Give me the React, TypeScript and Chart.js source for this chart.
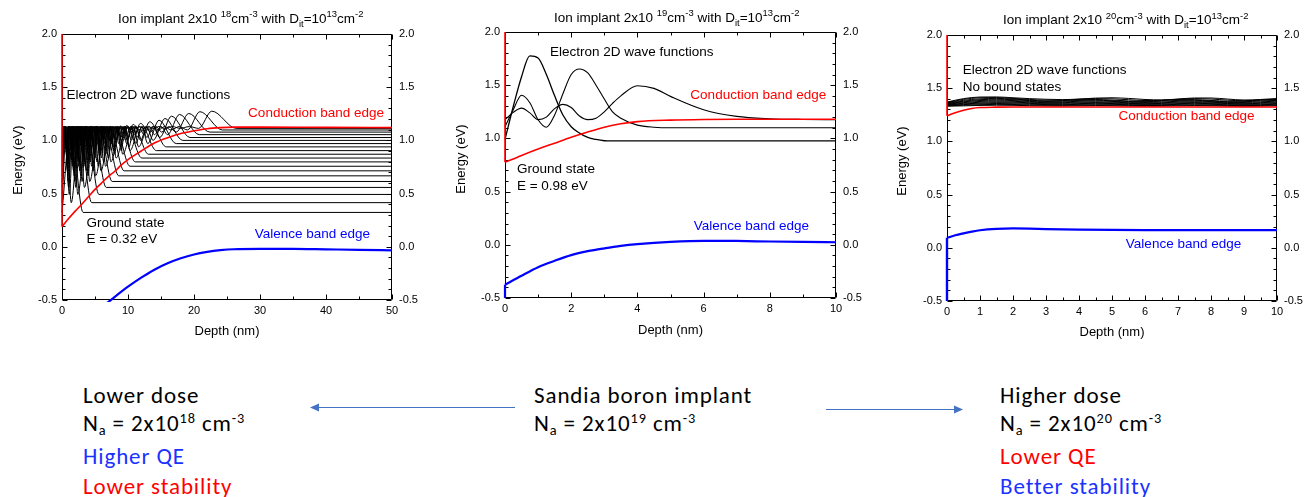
import React, { useEffect, useRef } from "react";
import { Chart, registerables } from "chart.js";
Chart.register(...registerables);

const FONT = "'Liberation Sans', Arial, Helvetica, sans-serif";
const NOTE_FONT = "Carlito, Calibri, Lato, 'Open Sans', sans-serif";
const RED = "#ff0000";
const BLUE = "#0000ff";

// ---------------- Panel 1 : 2x10^18 ----------------
const depth1CB = [0, 1, 2, 3, 4, 5, 6, 7, 8, 9, 10, 12, 14, 16, 18, 20, 22, 24, 26, 30, 40, 50];
const cb1 = [0.19, 0.265, 0.335, 0.4, 0.47, 0.54, 0.6, 0.66, 0.71, 0.77, 0.82, 0.9, 0.975, 1.025, 1.065, 1.09, 1.11, 1.12, 1.125, 1.125, 1.122, 1.12];
const wallCB1 = [0.19, 2.0];
const depth1VB = [0, 2, 4, 6, 7, 8, 10, 12, 14, 16, 18, 20, 22, 24, 26, 30, 35, 40, 45, 50];
const vb1 = [-0.93, -0.8, -0.68, -0.57, -0.52, -0.47, -0.375, -0.29, -0.215, -0.155, -0.108, -0.072, -0.048, -0.032, -0.023, -0.02, -0.02, -0.024, -0.028, -0.033];
const levels1 = [0.323, 0.415, 0.492, 0.558, 0.614, 0.667, 0.714, 0.757, 0.798, 0.834, 0.87, 0.904, 0.939, 0.97, 1.0, 1.027, 1.054, 1.078, 1.098, 1.113];
const wfTop1 = 1.13;
// alternating node / inner-peak depths of each bound state
const wfNodesPeaks1 = [
  [0],
  [0, 0.7, 1.4],
  [0, 0.55, 1.1, 1.75, 2.4],
  [0, 0.5, 1.0, 1.55, 2.1, 2.75, 3.4],
  [0, 0.48, 0.95, 1.45, 1.95, 2.5, 3.05, 3.62, 4.2],
  [0, 0.45, 0.9, 1.38, 1.85, 2.35, 2.85, 3.4, 3.95, 4.52, 5.1],
  [0, 0.42, 0.85, 1.3, 1.75, 2.22, 2.7, 3.2, 3.7, 4.22, 4.75, 5.32, 5.9],
  [0, 0.4, 0.8, 1.22, 1.65, 2.1, 2.55, 3.02, 3.5, 4.0, 4.5, 5.0, 5.5, 6.05, 6.6],
  [0, 0.4, 0.8, 1.2, 1.6, 2.02, 2.45, 2.9, 3.35, 3.82, 4.3, 4.8, 5.3, 5.8, 6.3, 6.85, 7.4],
  [0, 0.38, 0.75, 1.15, 1.55, 1.95, 2.35, 2.78, 3.2, 3.65, 4.1, 4.55, 5.0, 5.48, 5.95, 6.48, 7.0, 7.6, 8.2],
  [0, 0.38, 0.75, 1.12, 1.5, 1.9, 2.3, 2.72, 3.15, 3.58, 4.0, 4.45, 4.9, 5.38, 5.85, 6.35, 6.85, 7.4, 7.95, 8.58, 9.2],
  [0, 0.35, 0.7, 1.08, 1.45, 1.85, 2.25, 2.65, 3.05, 3.48, 3.9, 4.35, 4.8, 5.28, 5.75, 6.25, 6.75, 7.28, 7.8, 8.38, 8.95, 9.62, 10.3],
  [0, 0.35, 0.7, 1.08, 1.45, 1.82, 2.2, 2.6, 3.0, 3.42, 3.85, 4.3, 4.75, 5.22, 5.7, 6.2, 6.7, 7.22, 7.75, 8.32, 8.9, 9.52, 10.15, 10.88, 11.6],
  [0, 0.35, 0.7, 1.05, 1.4, 1.78, 2.15, 2.55, 2.95, 3.38, 3.8, 4.22, 4.65, 5.1, 5.55, 6.02, 6.5, 7.0, 7.5, 8.05, 8.6, 9.2, 9.8, 10.5, 11.2, 12.1, 13.0],
  [0, 0.35, 0.7, 1.05, 1.4, 1.75, 2.1, 2.48, 2.85, 3.25, 3.65, 4.08, 4.5, 4.92, 5.35, 5.8, 6.25, 6.72, 7.2, 7.7, 8.2, 8.75, 9.3, 9.9, 10.5, 11.2, 11.9, 12.85, 13.8],
  [0, 0.32, 0.65, 1.0, 1.35, 1.7, 2.05, 2.4, 2.75, 3.12, 3.5, 3.9, 4.3, 4.72, 5.15, 5.58, 6.0, 6.45, 6.9, 7.38, 7.85, 8.38, 8.9, 9.48, 10.05, 10.7, 11.35, 12.1, 12.85, 13.82, 14.8],
  [0, 0.32, 0.65, 0.98, 1.3, 1.65, 2.0, 2.35, 2.7, 3.08, 3.45, 3.82, 4.2, 4.6, 5.0, 5.42, 5.85, 6.3, 6.75, 7.22, 7.7, 8.2, 8.7, 9.25, 9.8, 10.4, 11.0, 11.7, 12.4, 13.2, 14.0, 15.0, 16.0],
  [0, 0.32, 0.65, 0.98, 1.3, 1.62, 1.95, 2.3, 2.65, 3.0, 3.35, 3.72, 4.1, 4.5, 4.9, 5.3, 5.7, 6.12, 6.55, 7.0, 7.45, 7.92, 8.4, 8.92, 9.45, 10.02, 10.6, 11.25, 11.9, 12.65, 13.4, 14.25, 15.1, 16.2, 17.3],
  [0, 0.3, 0.6, 0.92, 1.25, 1.58, 1.9, 2.25, 2.6, 2.95, 3.3, 3.68, 4.05, 4.42, 4.8, 5.2, 5.6, 6.02, 6.45, 6.9, 7.35, 7.82, 8.3, 8.8, 9.3, 9.85, 10.4, 11.0, 11.6, 12.3, 13.0, 13.8, 14.6, 15.55, 16.5, 17.75, 19.0],
  [0, 0.3, 0.6, 0.9, 1.2, 1.52, 1.85, 2.18, 2.5, 2.85, 3.2, 3.55, 3.9, 4.28, 4.65, 5.05, 5.45, 5.85, 6.25, 6.68, 7.1, 7.55, 8.0, 8.48, 8.95, 9.48, 10.0, 10.58, 11.15, 11.78, 12.4, 13.1, 13.8, 14.7, 15.6, 16.75, 17.9, 19.3, 20.7],
];
const outerPeakX1 = [1.3, 2.6, 3.7, 4.7, 5.6, 6.5, 7.3, 8.1, 8.9, 9.8, 10.8, 11.9, 13.3, 14.7, 15.6, 16.6, 17.8, 19.2, 20.9, 22.7];
const outerPeakY1 = [1.13, 1.13, 1.13, 1.13, 1.13, 1.13, 1.13, 1.13, 1.135, 1.14, 1.15, 1.16, 1.175, 1.19, 1.206, 1.228, 1.244, 1.253, 1.27, 1.275];
const tailX1 = [3.2, 4.5, 5.6, 6.7, 7.6, 8.6, 9.4, 10.3, 11.1, 12.1, 13.1, 14.3, 15.8, 17.3, 18.3, 19.4, 20.8, 22.4, 24.3, 26.4];
const depthEnd1 = 50;

// ---------------- Panel 2 : 2x10^19 ----------------
const depth2CB = [0, 0.5, 1, 1.5, 2, 2.5, 3, 3.5, 4, 5, 6, 7, 8, 10];
const cb2 = [0.775, 0.84, 0.9, 0.955, 1.01, 1.06, 1.105, 1.138, 1.158, 1.172, 1.178, 1.18, 1.18, 1.18];
const wallCB2 = [0.775, 2.0];
const depth2VB = [0, 0.5, 1, 1.5, 2, 2.5, 3, 3.5, 4, 5, 6, 7, 8, 9, 10];
const vb2 = [-0.375, -0.29, -0.21, -0.15, -0.097, -0.06, -0.033, -0.01, 0.006, 0.027, 0.037, 0.036, 0.031, 0.027, 0.024];
const wallVB2 = [-0.375, -0.5];
const depth2WF = [0, 0.25, 0.5, 0.75, 1, 1.25, 1.5, 1.75, 2, 2.25, 2.5, 2.75, 3, 3.25, 3.5, 4, 4.5, 5, 6, 7, 8, 9, 10];
const wf2Ground = [0.99, 1.3, 1.58, 1.775, 1.755, 1.6, 1.4, 1.22, 1.11, 1.05, 1.01, 0.99, 0.978, 0.976, 0.976, 0.976, 0.976, 0.976, 0.976, 0.976, 0.976, 0.976, 0.976];
const wf2Second = [1.11, 1.27, 1.405, 1.335, 1.175, 1.105, 1.22, 1.42, 1.6, 1.652, 1.615, 1.5, 1.37, 1.25, 1.19, 1.125, 1.105, 1.1, 1.1, 1.1, 1.1, 1.1, 1.1];
const wf2Third = [1.176, 1.245, 1.285, 1.24, 1.176, 1.2, 1.28, 1.32, 1.29, 1.21, 1.176, 1.19, 1.25, 1.33, 1.4, 1.495, 1.47, 1.395, 1.27, 1.207, 1.185, 1.178, 1.176];

// ---------------- Panel 3 : 2x10^20 ----------------
const depth3CB = [0, 0.25, 0.5, 0.75, 1, 1.5, 2, 4, 6, 8, 10];
const cb3 = [1.24, 1.27, 1.293, 1.31, 1.318, 1.322, 1.324, 1.324, 1.323, 1.323, 1.323];
const wallCB3 = [1.24, 2.0];
const depth3VB = [0, 0.25, 0.5, 0.75, 1, 1.5, 2, 2.5, 3, 4, 5, 6, 8, 10];
const vb3 = [0.094, 0.118, 0.136, 0.152, 0.165, 0.178, 0.182, 0.18, 0.176, 0.171, 0.168, 0.167, 0.167, 0.167];
const wallVB3 = [0.094, -0.5];
const depth3WF = [0, 0.5, 1, 1.5, 2, 2.5, 3, 3.5, 4, 4.5, 5, 5.5, 6, 6.5, 7, 7.5, 8, 8.5, 9, 9.5, 10];
const wf3States = [
  [1.37, 1.402, 1.417, 1.418, 1.41, 1.402, 1.396, 1.393, 1.398, 1.407, 1.41, 1.404, 1.394, 1.39, 1.398, 1.408, 1.408, 1.398, 1.389, 1.394, 1.403],
  [1.365, 1.395, 1.41, 1.412, 1.404, 1.394, 1.388, 1.388, 1.396, 1.402, 1.4, 1.392, 1.384, 1.386, 1.396, 1.402, 1.398, 1.388, 1.382, 1.389, 1.398],
  [1.362, 1.386, 1.4, 1.404, 1.398, 1.388, 1.38, 1.383, 1.392, 1.394, 1.388, 1.38, 1.378, 1.385, 1.393, 1.393, 1.385, 1.378, 1.38, 1.388, 1.392],
  [1.358, 1.378, 1.392, 1.396, 1.392, 1.383, 1.376, 1.378, 1.385, 1.387, 1.382, 1.375, 1.373, 1.378, 1.385, 1.386, 1.38, 1.373, 1.373, 1.38, 1.386],
  [1.355, 1.372, 1.384, 1.388, 1.384, 1.376, 1.37, 1.371, 1.377, 1.38, 1.376, 1.369, 1.366, 1.37, 1.377, 1.379, 1.374, 1.367, 1.366, 1.372, 1.378],
  [1.35, 1.365, 1.376, 1.38, 1.377, 1.37, 1.364, 1.364, 1.369, 1.372, 1.369, 1.363, 1.36, 1.363, 1.369, 1.372, 1.368, 1.362, 1.36, 1.364, 1.37],
  [1.346, 1.358, 1.368, 1.372, 1.369, 1.363, 1.358, 1.358, 1.362, 1.365, 1.362, 1.357, 1.354, 1.357, 1.362, 1.365, 1.361, 1.356, 1.354, 1.358, 1.363],
  [1.342, 1.352, 1.36, 1.364, 1.362, 1.357, 1.352, 1.351, 1.355, 1.358, 1.356, 1.351, 1.348, 1.35, 1.355, 1.358, 1.355, 1.35, 1.348, 1.351, 1.356],
  [1.338, 1.346, 1.353, 1.356, 1.354, 1.35, 1.346, 1.345, 1.348, 1.351, 1.349, 1.345, 1.342, 1.344, 1.348, 1.351, 1.349, 1.344, 1.342, 1.345, 1.349],
  [1.334, 1.34, 1.345, 1.348, 1.347, 1.343, 1.34, 1.339, 1.341, 1.344, 1.343, 1.339, 1.337, 1.338, 1.341, 1.344, 1.342, 1.338, 1.336, 1.338, 1.342],
  [1.331, 1.334, 1.338, 1.34, 1.339, 1.336, 1.334, 1.333, 1.335, 1.337, 1.336, 1.333, 1.332, 1.333, 1.335, 1.337, 1.336, 1.333, 1.331, 1.333, 1.336],
];

// ---------------- texts ----------------
type Seg = [string, "n" | "sup" | "sub"];
const title1: Seg[] = [["Ion implant 2x10 ", "n"], ["18", "sup"], ["cm", "n"], ["-3", "sup"], [" with D", "n"], ["it", "sub"], ["=10", "n"], ["13", "sup"], ["cm", "n"], ["-2", "sup"]];
const title2: Seg[] = [["Ion implant 2x10 ", "n"], ["19", "sup"], ["cm", "n"], ["-3", "sup"], [" with D", "n"], ["it", "sub"], ["=10", "n"], ["13", "sup"], ["cm", "n"], ["-2", "sup"]];
const title3: Seg[] = [["Ion implant 2x10 ", "n"], ["20", "sup"], ["cm", "n"], ["-3", "sup"], [" with D", "n"], ["it", "sub"], ["=10", "n"], ["13", "sup"], ["cm", "n"], ["-2", "sup"]];

interface Note { text: string; x: number; y: number; color: string }
const notes1: Note[] = [
  { text: "Electron 2D wave functions", x: 0.7, y: 1.425, color: "#000" },
  { text: "Conduction band edge", x: 28.2, y: 1.256, color: RED },
  { text: "Ground state", x: 3.7, y: 0.223, color: "#000" },
  { text: "E = 0.32 eV", x: 3.7, y: 0.073, color: "#000" },
  { text: "Valence band edge", x: 29.2, y: 0.12, color: BLUE },
];
const notes2: Note[] = [
  { text: "Electron 2D wave functions", x: 1.36, y: 1.805, color: "#000" },
  { text: "Conduction band edge", x: 5.6, y: 1.401, color: RED },
  { text: "Ground state", x: 0.36, y: 0.706, color: "#000" },
  { text: "E = 0.98 eV", x: 0.36, y: 0.546, color: "#000" },
  { text: "Valence band edge", x: 5.7, y: 0.17, color: BLUE },
];
const notes3: Note[] = [
  { text: "Electron 2D wave functions", x: 0.48, y: 1.669, color: "#000" },
  { text: "No bound states", x: 0.48, y: 1.509, color: "#000" },
  { text: "Conduction band edge", x: 5.2, y: 1.237, color: RED },
  { text: "Valence band edge", x: 5.42, y: 0.035, color: BLUE },
];

// ---------------- helpers ----------------
const toPts = (xs: number[], ys: number[]) => xs.map((x, i) => ({ x, y: ys[i] }));
const wallPts = (ys: number[]) => ys.map((y) => ({ x: 0, y }));

function lineDs(data: any[], color: string, width: number, smooth = true) {
  return {
    data,
    borderColor: color,
    borderWidth: width,
    pointRadius: 0,
    fill: false,
    tension: 0,
    cubicInterpolationMode: smooth ? "monotone" : "default",
    yAxisID: "y",
    clip: 2,
  };
}

const wfData1 = levels1.map((E, n) => {
  const pts = wfNodesPeaks1[n].map((x, i) => ({ x, y: i % 2 === 0 ? E : wfTop1 }));
  pts.push({ x: outerPeakX1[n], y: outerPeakY1[n] });
  pts.push({ x: tailX1[n], y: E });
  pts.push({ x: depthEnd1, y: E });
  return pts;
});

const datasets1 = [
  lineDs(toPts(depth1CB, cb1), RED, 1.6),
  lineDs(wallPts(wallCB1), RED, 1.6, false),
  lineDs(toPts(depth1VB, vb1), BLUE, 2.2),
  ...wfData1.map((d) => lineDs(d, "#000", 1)),
];
const datasets2 = [
  lineDs(toPts(depth2CB, cb2), RED, 1.6),
  lineDs(wallPts(wallCB2), RED, 1.6, false),
  lineDs(toPts(depth2VB, vb2), BLUE, 2.2),
  lineDs(wallPts(wallVB2), BLUE, 2.2, false),
  lineDs(toPts(depth2WF, wf2Ground), "#000", 1.3),
  lineDs(toPts(depth2WF, wf2Second), "#000", 1.1),
  lineDs(toPts(depth2WF, wf2Third), "#000", 1.1),
];
const datasets3 = [
  lineDs(toPts(depth3CB, cb3), RED, 1.6),
  lineDs(wallPts(wallCB3), RED, 1.6, false),
  lineDs(toPts(depth3VB, vb3), BLUE, 2.2),
  lineDs(wallPts(wallVB3), BLUE, 2.4, false),
  ...wf3States.map((s) => lineDs(toPts(depth3WF, s), "#000", 1)),
];

interface PanelSpec {
  left: number; top: number; width: number; height: number;
  padTop: number; leftW: number; rightW: number; xH: number;
  xMax: number; xStep: number; xMinor: number;
  datasets: any[]; notes: Note[];
  title: Seg[]; titleX: number; titleY: number;
  yTitleX: number; yTitleY: number; xTitleY: number;
}

function drawRich(ctx: CanvasRenderingContext2D, segs: Seg[], x: number, y: number, size: number) {
  let cx = x;
  for (const [t, k] of segs) {
    const s = k === "n" ? size : size * 0.7;
    ctx.font = `${s}px ${FONT}`;
    const dy = k === "sup" ? -size * 0.4 : k === "sub" ? size * 0.3 : 0;
    ctx.fillText(t, cx, y + dy);
    cx += ctx.measureText(t).width;
  }
}

function makeDecor(spec: PanelSpec) {
  return {
    id: "decor",
    beforeDatasetsDraw(chart: any) {
      const { ctx, chartArea: a, scales } = chart;
      const xs = scales.x, ys = scales.y;
      ctx.save();
      ctx.strokeStyle = "#000";
      ctx.lineWidth = 1;
      ctx.beginPath();
      const L = Math.round(a.left) + 0.5, R = Math.round(a.right) - 0.5;
      const T = Math.round(a.top) + 0.5, B = Math.round(a.bottom) - 0.5;
      ctx.rect(L, T, R - L, B - T);
      const nX = Math.round((xs.max - xs.min) / spec.xMinor);
      for (let i = 0; i <= nX; i++) {
        const v = xs.min + i * spec.xMinor;
        const px = Math.round(xs.getPixelForValue(v)) + 0.5;
        const r = v / spec.xStep;
        const len = Math.abs(r - Math.round(r)) < 1e-6 ? 5 : 3;
        ctx.moveTo(px, B); ctx.lineTo(px, B - len);
        ctx.moveTo(px, T); ctx.lineTo(px, T + len);
      }
      const nY = Math.round((ys.max - ys.min) / 0.1);
      for (let i = 0; i <= nY; i++) {
        const v = ys.min + i * 0.1;
        const py = Math.round(ys.getPixelForValue(v)) + 0.5;
        const r = v / 0.5;
        const len = Math.abs(r - Math.round(r)) < 1e-6 ? 5 : 3;
        ctx.moveTo(L, py); ctx.lineTo(L + len, py);
        ctx.moveTo(R, py); ctx.lineTo(R - len, py);
      }
      ctx.stroke();
      ctx.restore();
    },
    afterDraw(chart: any) {
      const { ctx, chartArea: a, scales } = chart;
      ctx.save();
      ctx.fillStyle = "#000";
      ctx.textAlign = "left";
      ctx.textBaseline = "alphabetic";
      drawRich(ctx, spec.title, spec.titleX, spec.titleY, 13.5);
      ctx.textBaseline = "middle";
      ctx.font = `13.5px ${FONT}`;
      for (const n of spec.notes) {
        ctx.fillStyle = n.color;
        ctx.fillText(n.text, scales.x.getPixelForValue(n.x), scales.y.getPixelForValue(n.y));
      }
      ctx.fillStyle = "#000";
      ctx.font = `13px ${FONT}`;
      ctx.textAlign = "center";
      ctx.fillText("Depth (nm)", (a.left + a.right) / 2, spec.xTitleY);
      ctx.translate(spec.yTitleX, spec.yTitleY);
      ctx.rotate(-Math.PI / 2);
      ctx.fillText("Energy (eV)", 0, 0);
      ctx.restore();
    },
  };
}

function Panel({ spec }: { spec: PanelSpec }) {
  const ref = useRef<HTMLCanvasElement>(null);
  useEffect(() => {
    const tickFont = { family: FONT, size: 11 };
    const chart = new Chart(ref.current as HTMLCanvasElement, {
      type: "line",
      data: { datasets: spec.datasets as any },
      options: {
        responsive: false,
        animation: false,
        events: [],
        layout: { autoPadding: false, padding: { top: spec.padTop, left: 0, right: 0, bottom: 0 } } as any,
        plugins: { legend: { display: false }, tooltip: { enabled: false } },
        scales: {
          x: {
            type: "linear", min: 0, max: spec.xMax,
            grid: { display: false, drawTicks: false }, border: { display: false },
            ticks: { stepSize: spec.xStep, padding: 4, color: "#000", font: tickFont, maxRotation: 0, autoSkip: false, callback: (v: any) => String(v) },
            afterFit: (s: any) => { s.height = spec.xH; },
          },
          y: {
            type: "linear", position: "left", min: -0.5, max: 2.0,
            grid: { display: false, drawTicks: false }, border: { display: false },
            ticks: { stepSize: 0.5, padding: 5, color: "#000", font: tickFont, callback: (v: any) => Number(v).toFixed(1) },
            afterFit: (s: any) => { s.width = spec.leftW; },
          },
          y2: {
            type: "linear", position: "right", min: -0.5, max: 2.0,
            grid: { display: false, drawTicks: false }, border: { display: false },
            ticks: { stepSize: 0.5, padding: 7, color: "#000", font: tickFont, callback: (v: any) => Number(v).toFixed(1) },
            afterFit: (s: any) => { s.width = spec.rightW; },
          },
        } as any,
      },
      plugins: [makeDecor(spec)],
    });
    return () => chart.destroy();
  }, []);
  return (
    <canvas
      ref={ref}
      width={spec.width}
      height={spec.height}
      style={{ position: "absolute", left: spec.left, top: spec.top, width: spec.width, height: spec.height }}
    />
  );
}

const panels: PanelSpec[] = [
  { left: 0, top: 0, width: 430, height: 345, padTop: 34, leftW: 62, rightW: 38, xH: 45, xMax: 50, xStep: 10, xMinor: 5,
    datasets: datasets1, notes: notes1, title: title1, titleX: 118, titleY: 22.5, yTitleX: 18, yTitleY: 160, xTitleY: 331.5 },
  { left: 443, top: 0, width: 431, height: 343, padTop: 32, leftW: 62, rightW: 38, xH: 45, xMax: 10, xStep: 2, xMinor: 1,
    datasets: datasets2, notes: notes2, title: title2, titleX: 111, titleY: 21.5, yTitleX: 18.7, yTitleY: 159, xTitleY: 330 },
  { left: 885, top: 0, width: 422, height: 346, padTop: 35, leftW: 62, rightW: 30, xH: 45, xMax: 10, xStep: 1, xMinor: 0.5,
    datasets: datasets3, notes: notes3, title: title3, titleX: 118, titleY: 24, yTitleX: 17.7, yTitleY: 161, xTitleY: 332.5 },
];

// ---------------- bottom annotations ----------------
const sup = (t: string) => <span style={{ fontSize: "0.62em", position: "relative", top: "-0.55em" }}>{t}</span>;
const sub = (t: string) => <span style={{ fontSize: "0.62em", position: "relative", top: "0.3em" }}>{t}</span>;
const naLine = (exp: string) => (<>N{sub("a")} = 2x10{sup(exp)} cm{sup("-3")}</>);

const lowerLines = ["Lower dose", "18", "Higher QE", "Lower stability"];
const middleLines = ["Sandia boron implant", "19"];
const higherLines = ["Higher dose", "20", "Lower QE", "Better stability"];
const lineTops = [380, 408, 441, 471];

function NoteLine({ x, row, color, children }: { x: number; row: number; color: string; children: any }) {
  return (
    <div style={{ position: "absolute", left: x, top: lineTops[row], fontFamily: NOTE_FONT, fontSize: 23, letterSpacing: "0.9px", lineHeight: "30px", whiteSpace: "nowrap", color }}>
      {children}
    </div>
  );
}

export default function App() {
  return (
    <div style={{ position: "absolute", left: 0, top: 0, width: 1307, height: 497, background: "#fff", overflow: "hidden" }}>
      {panels.map((p, i) => (<Panel key={i} spec={p} />))}
      <NoteLine x={83} row={0} color="#000">{lowerLines[0]}</NoteLine>
      <NoteLine x={83} row={1} color="#000">{naLine(lowerLines[1])}</NoteLine>
      <NoteLine x={83} row={2} color="#1a32ff">{lowerLines[2]}</NoteLine>
      <NoteLine x={83} row={3} color={RED}>{lowerLines[3]}</NoteLine>
      <NoteLine x={534} row={0} color="#000">{middleLines[0]}</NoteLine>
      <NoteLine x={534} row={1} color="#000">{naLine(middleLines[1])}</NoteLine>
      <NoteLine x={1000} row={0} color="#000">{higherLines[0]}</NoteLine>
      <NoteLine x={1000} row={1} color="#000">{naLine(higherLines[1])}</NoteLine>
      <NoteLine x={1000} row={2} color={RED}>{higherLines[2]}</NoteLine>
      <NoteLine x={1000} row={3} color="#1a32ff">{higherLines[3]}</NoteLine>
      <svg width={1307} height={497} style={{ position: "absolute", left: 0, top: 0 }}>
        <line x1={515} y1={407.5} x2={317} y2={407.5} stroke="#4472C4" strokeWidth={1.2} />
        <polygon points="310,407.5 319,403.5 319,411.5" fill="#4472C4" />
        <line x1={826} y1={409.5} x2={956} y2={409.5} stroke="#4472C4" strokeWidth={1.2} />
        <polygon points="963,409.5 954,405.5 954,413.5" fill="#4472C4" />
      </svg>
    </div>
  );
}
